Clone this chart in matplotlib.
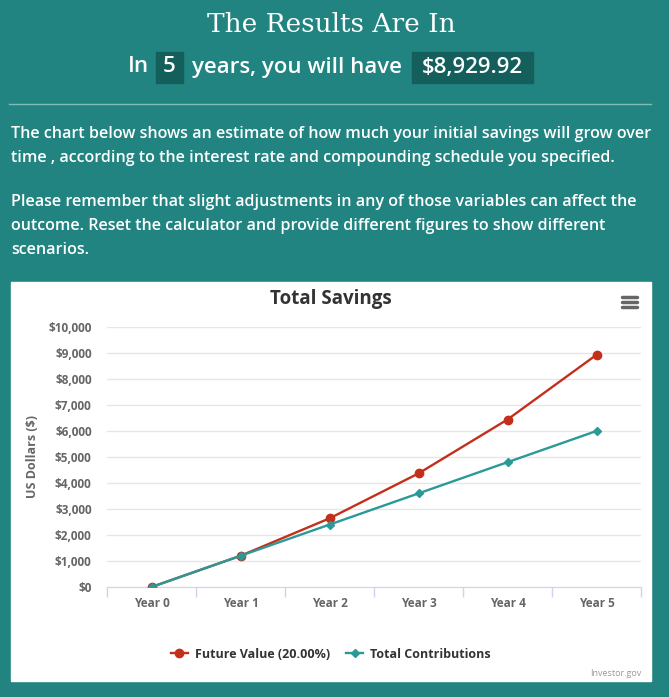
import numpy as np
import matplotlib
matplotlib.use("Agg")
import matplotlib.pyplot as plt
from matplotlib.patches import Rectangle
from matplotlib.lines import Line2D

# 数据
years = ["Year 0", "Year 1", "Year 2", "Year 3", "Year 4", "Year 5"]
future_value = [0, 1200, 2640, 4368, 6441.6, 8929.92]
contributions = [0, 1200, 2400, 3600, 4800, 6000]
y_ticks = [0, 1000, 2000, 3000, 4000, 5000, 6000, 7000, 8000, 9000, 10000]
y_tick_labels = ["$0", "$1,000", "$2,000", "$3,000", "$4,000", "$5,000",
                 "$6,000", "$7,000", "$8,000", "$9,000", "$10,000"]
paragraph = [
    "The chart below shows an estimate of how much your initial savings will grow over",
    "time , according to the interest rate and compounding schedule you specified.",
    "Please remember that slight adjustments in any of those variables can affect the",
    "outcome. Reset the calculator and provide different figures to show different",
    "scenarios.",
]
paragraph_y = [134, 158, 202, 226, 250]

W, H = 669, 697
BG = "#218481"
BOX = "#145f5c"
RED = "#c2301b"
TEAL = "#2b9a96"
SANS = ["Open Sans", "DejaVu Sans"]


def fx(x):
    return x / W


def fy(y):
    return 1 - y / H


def add_box(x0, y0, x1, y1, color):
    fig.patches.append(Rectangle((fx(x0), fy(y1)), fx(x1) - fx(x0), fy(y0) - fy(y1),
                                 transform=fig.transFigure, color=color, zorder=-1))


fig = plt.figure(figsize=(W / 100, H / 100), dpi=100)
fig.patch.set_facecolor(BG)

# 标题
fig.text(fx(331), fy(24), "The Results Are In", color="white", fontsize=19,
         family=["DejaVu Serif"], ha="center", va="center")

# 副标题和高亮框
add_box(156, 52, 183, 83, BOX)
add_box(412, 52, 533, 83, BOX)
sub_kw = dict(color="white", fontsize=16, family=SANS, weight="semibold", va="center")
fig.text(fx(149), fy(67), "In", ha="right", **sub_kw)
fig.text(fx(169.5), fy(67), "5", ha="center", **sub_kw)
fig.text(fx(296.5), fy(67), "years, you will have", ha="center", **sub_kw)
fig.text(fx(472.5), fy(67), "$8,929.92", ha="center", **sub_kw)

# 分隔线
fig.add_artist(Line2D([fx(9), fx(651)], [fy(104), fy(104)], color="#7fbdb9", lw=1,
                      transform=fig.transFigure))

# 说明文字
for line, y in zip(paragraph, paragraph_y):
    fig.text(fx(11), fy(y), line, color="white", fontsize=11.6, family=SANS,
             weight="semibold", ha="left", va="center")

# 白色图表框
add_box(11, 282, 651, 681, "white")

ax = fig.add_axes([fx(107), fy(587), fx(641) - fx(107), fy(327) - fy(587)])
ax.set_facecolor("white")
x = np.arange(len(years))
ax.plot(x, future_value, color=RED, lw=1.7, marker="o", markersize=6, zorder=3,
        label="Future Value (20.00%)")
ax.plot(x, contributions, color=TEAL, lw=1.7, marker="D", markersize=4.2, zorder=4,
        label="Total Contributions")

ax.set_xlim(-0.5, len(years) - 0.5)
ax.set_ylim(0, 10000)
ax.set_yticks(y_ticks)
ax.set_yticklabels(y_tick_labels)
ax.set_xticks(x)
ax.set_xticklabels(years)
ax.set_xticks(np.arange(-0.5, len(years)), minor=True)
ax.tick_params(axis="x", which="major", length=0, pad=7, labelsize=8.5, labelcolor="#666666")
ax.tick_params(axis="x", which="minor", length=7, color="#ccd6eb", width=1)
ax.tick_params(axis="y", length=0, pad=11, labelsize=8.5, labelcolor="#666666")
for lab in ax.get_xticklabels() + ax.get_yticklabels():
    lab.set_family(SANS)
    lab.set_weight("bold")

ax.grid(axis="y", color="#e6e6e6", lw=1)
ax.set_axisbelow(True)
for side in ["top", "right", "left"]:
    ax.spines[side].set_visible(False)
ax.spines["bottom"].set_color("#ccd6eb")

fig.text(fx(33), fy(457), "US Dollars ($)", rotation=90, color="#666666", fontsize=9,
         family=SANS, weight="bold", ha="center", va="center")
fig.text(fx(331), fy(299), "Total Savings", color="#333333", fontsize=13.5,
         family=SANS, weight="bold", ha="center", va="center")

# 菜单图标
for yy in [297, 302, 307]:
    fig.add_artist(Line2D([fx(622), fx(637)], [fy(yy), fy(yy)], color="#666666", lw=2.5,
                          solid_capstyle="round", transform=fig.transFigure))

leg = fig.legend(loc="center", bbox_to_anchor=(fx(331), fy(654)), ncol=2, frameon=False,
                 handlelength=1.3, columnspacing=1.3, handletextpad=0.6,
                 prop={"family": SANS, "weight": "bold", "size": 9})
for t in leg.get_texts():
    t.set_color("#333333")

fig.text(fx(641), fy(673), "Investor.gov", color="#999999", fontsize=6.5, family=SANS,
         ha="right", va="center")

fig.savefig("out.png", dpi=100, facecolor=BG)
